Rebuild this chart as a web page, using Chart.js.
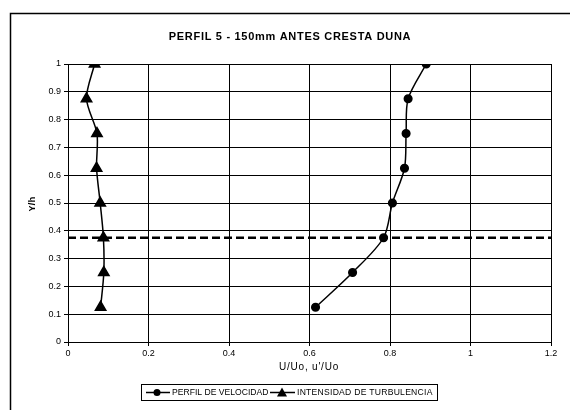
<!DOCTYPE html>
<html><head><meta charset="utf-8">
<script src="https://cdn.jsdelivr.net/npm/chart.js@4/dist/chart.umd.min.js"></script>
<style>html,body{margin:0;padding:0;background:#fff}#wrap{width:570px;height:410px}</style>
</head><body><div id="wrap"><canvas id="c" width="570" height="410"></canvas></div>
<script>
const yLevels = [1.0, 0.875, 0.75, 0.625, 0.5, 0.375, 0.25, 0.125];
const velocidad = [0.89, 0.845, 0.84, 0.836, 0.806, 0.784, 0.707, 0.615];
const turbulencia = [0.066, 0.046, 0.072, 0.071, 0.080, 0.088, 0.089, 0.081];
const refLineY = 0.375;
const xTicks = [0, 0.2, 0.4, 0.6, 0.8, 1.0, 1.2];
const yTicks = [0, 0.1, 0.2, 0.3, 0.4, 0.5, 0.6, 0.7, 0.8, 0.9, 1.0];
const titleText = 'PERFIL 5 - 150mm ANTES CRESTA DUNA';
const xTitle = "U/Uo, u'/Uo";
const yTitle = 'Y/h';
const seriesNames = ['PERFIL DE VELOCIDAD', 'INTENSIDAD DE TURBULENCIA'];

const FONT = '"Liberation Sans", Arial, sans-serif';

const frame = {
  id: 'frame',
  afterDraw(chart) {
    const ctx = chart.ctx;
    ctx.save();
    ctx.strokeStyle = '#000';
    ctx.lineWidth = 1.5;
    ctx.strokeRect(10.5, 13.5, 570, 420);
    ctx.fillStyle = '#000';
    ctx.textBaseline = 'middle';
    // title
    ctx.font = 'bold 11px ' + FONT;
    ctx.letterSpacing = '0.7px';
    ctx.textAlign = 'center';
    ctx.fillText(titleText, 290, 37);
    // axis titles
    ctx.font = '10px ' + FONT;
    ctx.letterSpacing = '0.8px';
    ctx.fillText(xTitle, 309, 367);
    ctx.save();
    ctx.translate(33, 204);
    ctx.rotate(-Math.PI / 2);
    ctx.font = 'bold 9px ' + FONT;
    ctx.letterSpacing = '0.4px';
    ctx.fillText(yTitle, 0, 0);
    ctx.restore();
    // legend
    ctx.letterSpacing = '0px';
    ctx.lineWidth = 1;
    ctx.strokeRect(141.5, 384.5, 296, 16);
    ctx.textAlign = 'left';
    const ly = 392.5;
    ctx.lineWidth = 1.5;
    ctx.beginPath(); ctx.moveTo(146, ly); ctx.lineTo(170, ly); ctx.stroke();
    ctx.beginPath(); ctx.arc(157, ly, 3.5, 0, Math.PI * 2); ctx.fill();
    ctx.font = '8.6px ' + FONT;
    ctx.fillText(seriesNames[0], 172, ly + 0.5);
    ctx.beginPath(); ctx.moveTo(270, ly); ctx.lineTo(295, ly); ctx.stroke();
    ctx.beginPath(); ctx.moveTo(282, ly - 5); ctx.lineTo(287, ly + 4); ctx.lineTo(277, ly + 4); ctx.closePath(); ctx.fill();
    ctx.letterSpacing = '0.25px';
    ctx.fillText(seriesNames[1], 297, ly + 0.5);
    ctx.restore();
  }
};

new Chart(document.getElementById('c'), {
  type: 'scatter',
  data: {
    datasets: [
      {
        label: seriesNames[0],
        data: yLevels.map((y, i) => ({ x: velocidad[i], y })),
        showLine: true, borderColor: '#000', backgroundColor: '#000', borderWidth: 1.5,
        pointStyle: 'circle', pointRadius: 3.8, pointHoverRadius: 3.8, tension: 0.3
      },
      {
        label: seriesNames[1],
        data: yLevels.map((y, i) => ({ x: turbulencia[i], y })),
        showLine: true, borderColor: '#000', backgroundColor: '#000', borderWidth: 1.5,
        pointStyle: 'triangle', pointRadius: 6, pointHoverRadius: 6, tension: 0.3
      },
      {
        label: 'ref',
        data: [{ x: xTicks[0], y: refLineY }, { x: xTicks[xTicks.length - 1], y: refLineY }],
        showLine: true, borderColor: '#000', borderWidth: 2.5, borderDash: [8, 4],
        pointRadius: 0, pointHoverRadius: 0
      }
    ]
  },
  options: {
    responsive: false, animation: false, devicePixelRatio: 1,
    layout: { padding: { left: 10, right: 19, top: 64, bottom: 40 } },
    plugins: { legend: { display: false }, title: { display: false }, tooltip: { enabled: false } },
    scales: {
      x: {
        type: 'linear', min: 0, max: 1.2,
        afterBuildTicks(s) { s.ticks = xTicks.map(v => ({ value: v })); },
        afterFit(s) { s.height = 28; },
        grid: { color: '#000', lineWidth: 1, tickLength: 4 },
        border: { color: '#000', width: 1 },
        ticks: { color: '#000', font: { family: FONT, size: 9 }, padding: 2, maxRotation: 0,
          callback: v => String(Math.round(v * 10) / 10) }
      },
      y: {
        type: 'linear', min: 0, max: 1,
        afterBuildTicks(s) { s.ticks = yTicks.map(v => ({ value: v })); },
        afterFit(s) { s.width = 58; },
        grid: { color: '#000', lineWidth: 1, tickLength: 4 },
        border: { color: '#000', width: 1 },
        ticks: { color: '#000', font: { family: FONT, size: 9 }, padding: 3,
          callback: v => String(Math.round(v * 10) / 10) }
      }
    }
  },
  plugins: [frame]
});
</script></body></html>
